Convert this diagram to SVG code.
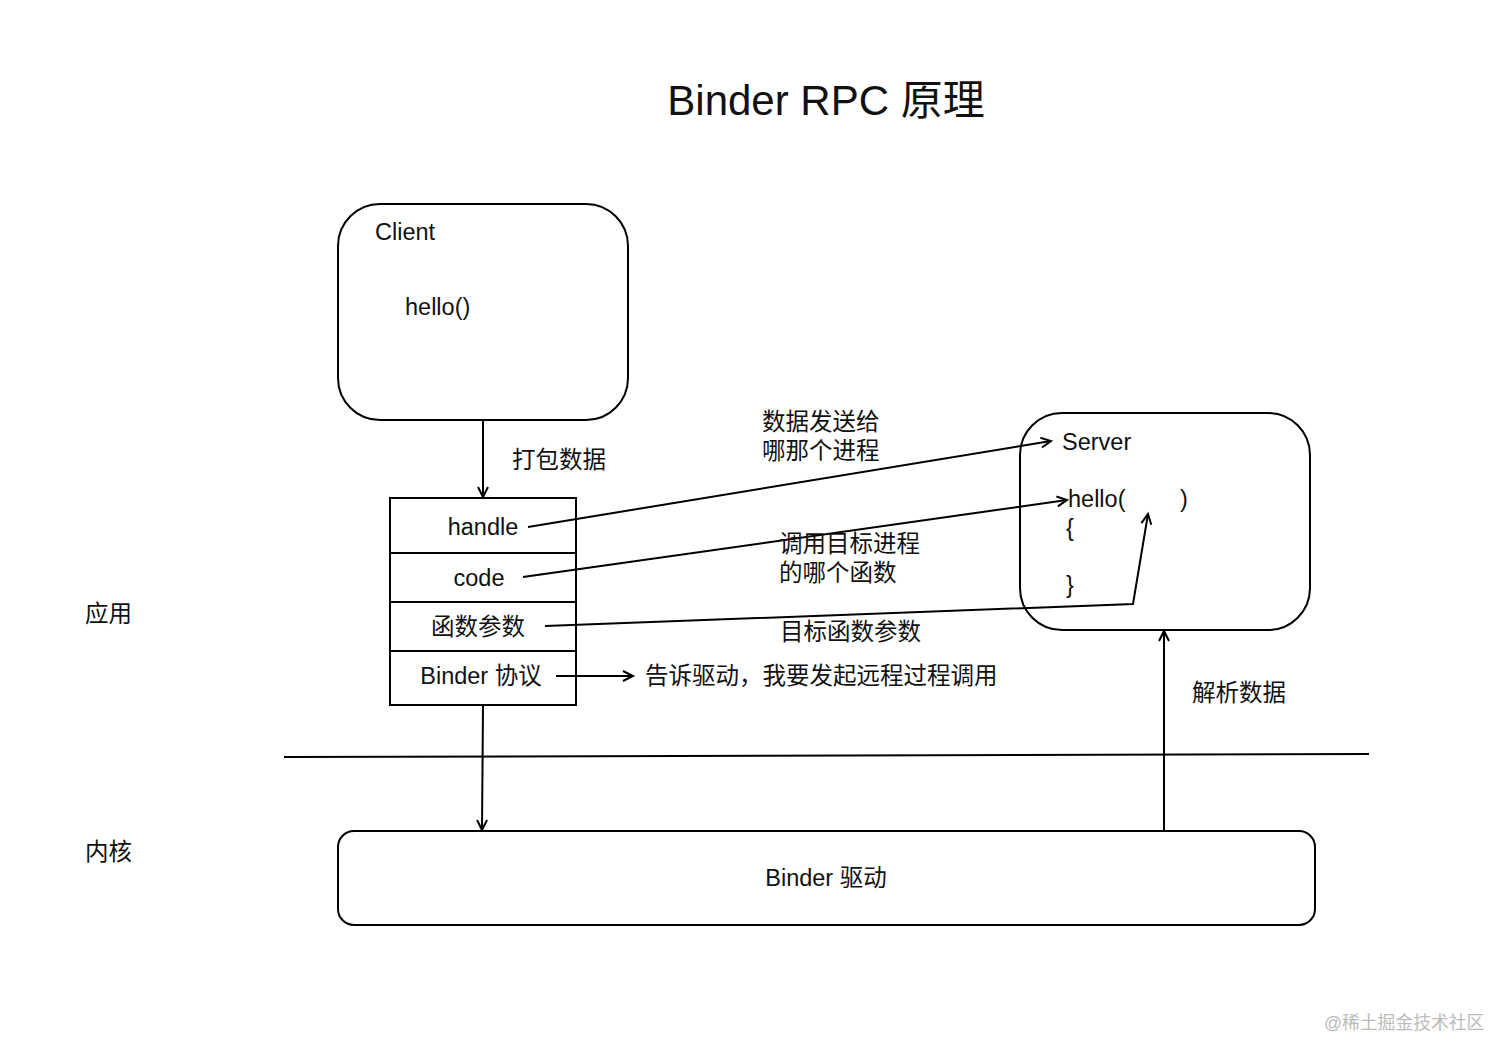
<svg xmlns="http://www.w3.org/2000/svg" width="1512" height="1060" viewBox="0 0 1512 1060">
<defs>
<marker id="arr" markerWidth="14" markerHeight="14" refX="11" refY="6" orient="auto" markerUnits="userSpaceOnUse">
<path d="M1,1 L11,6 L1,11" fill="none" stroke="#000" stroke-width="2"/>
</marker>
</defs>
<style>
text{font-family:"Liberation Sans","Noto Sans CJK SC",Arial,sans-serif;font-size:23.5px;fill:#111}
.box{fill:#fff;stroke:#000;stroke-width:2}
.ln{fill:none;stroke:#000;stroke-width:2}
.c{text-anchor:middle}
</style>
<rect width="1512" height="1060" fill="#fff"/>
<text x="826" y="115" class="c" style="font-size:42px">Binder RPC 原理</text>
<g id="client">
<rect class="box" x="338" y="204" width="290" height="216" rx="42"/>
<text x="375" y="240">Client</text>
<text x="405" y="315">hello()</text>
</g>
<g id="server">
<rect class="box" x="1020" y="413" width="290" height="217" rx="42"/>
<text x="1062" y="450">Server</text>
<text x="1068" y="507">hello(</text>
<text x="1180" y="507">)</text>
<text x="1066" y="536">{</text>
<text x="1066" y="593">}</text>
</g>
<g id="stack">
<rect class="box" x="390" y="498" width="186" height="207"/>
<line class="ln" x1="390" y1="553" x2="576" y2="553"/>
<line class="ln" x1="390" y1="602" x2="576" y2="602"/>
<line class="ln" x1="390" y1="651" x2="576" y2="651"/>
<text x="483" y="535" class="c">handle</text>
<text x="479" y="586" class="c">code</text>
<text x="478" y="635" class="c">函数参数</text>
<text x="481" y="684" class="c">Binder 协议</text>
</g>
<g id="driver">
<rect class="box" x="338" y="831" width="977" height="94" rx="16"/>
<text x="826" y="886" class="c">Binder 驱动</text>
</g>
<g id="divider">
<line class="ln" x1="284" y1="757" x2="1369" y2="754"/>
</g>
<g id="connectors">
<line class="ln" x1="483" y1="420" x2="483" y2="497" marker-end="url(#arr)"/>
<line class="ln" x1="528" y1="527" x2="1051" y2="441" marker-end="url(#arr)"/>
<line class="ln" x1="523" y1="577" x2="1067" y2="500" marker-end="url(#arr)"/>
<polyline class="ln" points="545,626 1133,604 1148,514" marker-end="url(#arr)"/>
<line class="ln" x1="556" y1="676" x2="633" y2="676" marker-end="url(#arr)"/>
<line class="ln" x1="483" y1="705" x2="482" y2="830" marker-end="url(#arr)"/>
<line class="ln" x1="1164" y1="831" x2="1164" y2="631" marker-end="url(#arr)"/>
</g>
<g id="labels">
<text x="512" y="468">打包数据</text>
<text x="762" y="430">数据发送给</text>
<text x="762" y="459">哪那个进程</text>
<text x="779" y="552">调用目标进程</text>
<text x="779" y="581">的哪个函数</text>
<text x="780" y="640">目标函数参数</text>
<text x="645" y="684">告诉驱动，我要发起远程过程调用</text>
<text x="1192" y="701">解析数据</text>
<text x="85" y="622">应用</text>
<text x="85" y="860">内核</text>
<text x="1324" y="1029" style="font-size:17.8px;fill:#bbb">@稀土掘金技术社区</text>
</g>
</svg>
